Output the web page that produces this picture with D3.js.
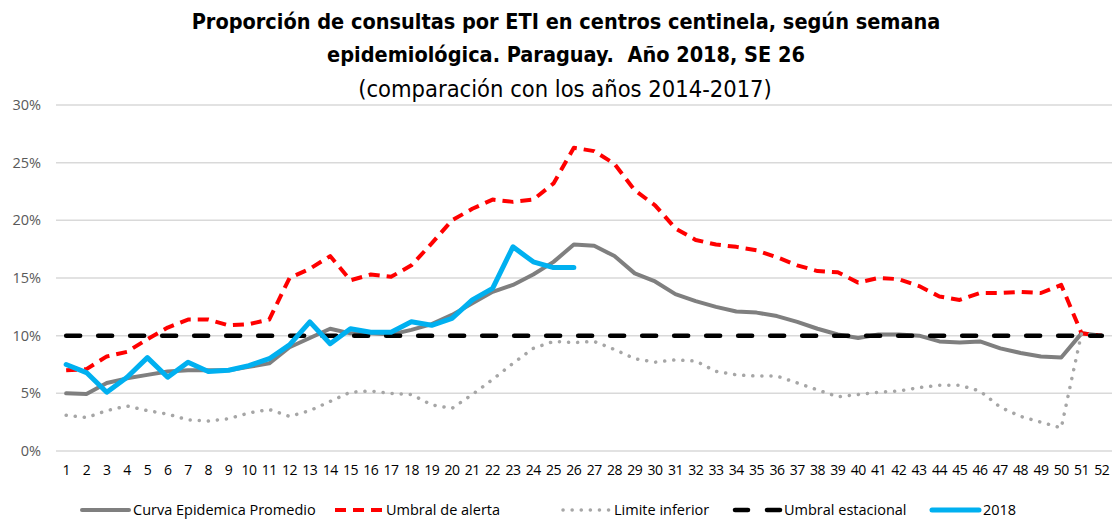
<!DOCTYPE html>
<html>
<head>
<meta charset="utf-8">
<script src="https://cdn.jsdelivr.net/npm/d3@7"></script>
<style>
  body { margin: 0; background: #fff; }
  svg { display: block; }
</style>
</head>
<body>
<svg id="chart" width="1114" height="520"></svg>
<script>
// semanas epidemiologicas 1..52
var weeks = d3.range(1, 53);

// Curva Epidemica Promedio (%)
var promedio = [5.0, 4.95, 5.9, 6.3, 6.6, 6.9, 7.0, 7.0, 7.0, 7.3, 7.6, 9.0, 9.8, 10.6, 10.2, 10.2,
  10.1, 10.5, 11.0, 11.8, 12.8, 13.8, 14.4, 15.3, 16.4, 17.9, 17.8, 16.9, 15.4, 14.7, 13.6, 13.0,
  12.5, 12.1, 12.0, 11.7, 11.2, 10.6, 10.1, 9.8, 10.1, 10.1, 10.0, 9.5, 9.4, 9.5, 8.9, 8.5,
  8.2, 8.1, 10.2, 10.0];

// Umbral de alerta (%)
var alerta = [7.0, 7.1, 8.2, 8.6, 9.7, 10.7, 11.4, 11.4, 10.9, 11.0, 11.4, 15.0, 15.8, 16.9, 14.8, 15.3,
  15.1, 16.1, 18.0, 20.0, 21.0, 21.8, 21.6, 21.8, 23.2, 26.3, 26.0, 24.9, 22.6, 21.3, 19.3, 18.3,
  17.9, 17.7, 17.4, 16.8, 16.1, 15.6, 15.5, 14.6, 15.0, 14.9, 14.3, 13.4, 13.1, 13.7, 13.7, 13.8,
  13.7, 14.4, 10.2, 10.0];

// Limite inferior (%)
var inferior = [3.1, 2.9, 3.5, 3.9, 3.5, 3.2, 2.7, 2.6, 2.8, 3.3, 3.6, 3.0, 3.5, 4.3, 5.1, 5.2,
  5.0, 4.9, 4.0, 3.7, 4.9, 6.2, 7.6, 8.9, 9.5, 9.4, 9.5, 8.8, 8.0, 7.7, 7.9, 7.8,
  6.9, 6.6, 6.5, 6.5, 5.9, 5.3, 4.7, 4.9, 5.1, 5.2, 5.5, 5.7, 5.7, 5.2, 3.8, 3.0,
  2.5, 2.0, 10.2, 10.0];

// Umbral estacional (%)
var estacional = weeks.map(function() { return 10; });

// 2018, hasta la SE 26 (%)
var anio2018 = [7.5, 6.8, 5.1, 6.4, 8.1, 6.4, 7.7, 6.9, 7.0, 7.4, 8.0, 9.2, 11.2, 9.3, 10.6, 10.3,
  10.3, 11.2, 10.9, 11.5, 13.1, 14.1, 17.7, 16.4, 15.9, 15.9];

var yTicks = [0, 5, 10, 15, 20, 25, 30];

var titleLines = ["Proporción de consultas por ETI en centros centinela, según semana",
  "epidemiológica. Paraguay.  Año 2018, SE 26"];
var subtitle = "(comparación con los años 2014-2017)";

var series = [
  { name: "Curva Epidemica Promedio", values: promedio, color: "#7f7f7f", width: 4, dash: null, cap: "round" },
  { name: "Umbral de alerta", values: alerta, color: "#ff0000", width: 4, dash: "11,7", cap: "butt" },
  { name: "Limite inferior", values: inferior, color: "#a6a6a6", width: 3.5, dash: "0.1,9", cap: "round" },
  { name: "Umbral estacional", values: estacional, color: "#000000", width: 4.5, dash: "14,18", cap: "round" },
  { name: "2018", values: anio2018, color: "#00b0f0", width: 5, dash: null, cap: "round" }
];

var svg = d3.select("#chart");
var margin = { left: 56, right: 2, top: 105, bottom: 69 };
var width = 1114 - margin.left - margin.right,
    height = 520 - margin.top - margin.bottom;

var x = d3.scaleBand().domain(weeks).range([0, width]);
var y = d3.scaleLinear().domain([0, 30]).range([height, 0]);

var g = svg.append("g").attr("transform", "translate(" + margin.left + "," + margin.top + ")");

// title
svg.selectAll(".title").data(titleLines).enter().append("text")
    .attr("x", 566)
    .attr("y", function(d, i) { return 29 + i * 33; })
    .attr("text-anchor", "middle")
    .style("white-space", "pre")
    .style("font-family", "'DejaVu Sans Condensed', sans-serif")
    .style("font-weight", "bold")
    .style("font-size", "21.5px")
    .attr("fill", "#000")
    .text(function(d) { return d; });

svg.append("text")
    .attr("x", 565)
    .attr("y", 97)
    .attr("text-anchor", "middle")
    .style("font-family", "'DejaVu Sans Condensed', sans-serif")
    .style("font-size", "23.5px")
    .attr("fill", "#000")
    .text(subtitle);

// gridlines
g.selectAll(".grid").data(yTicks).enter().append("line")
    .attr("x1", 0).attr("x2", width)
    .attr("y1", function(d) { return y(d); })
    .attr("y2", function(d) { return y(d); })
    .attr("stroke", "#d9d9d9")
    .attr("stroke-width", 1.5);

// y axis labels
var yAxis = g.append("g")
    .call(d3.axisLeft(y).tickValues(yTicks).tickSize(0).tickPadding(15)
      .tickFormat(function(d) { return d + "%"; }));
yAxis.select(".domain").remove();
yAxis.selectAll("text")
    .style("font-family", "'Open Sans', sans-serif")
    .style("font-size", "14.5px")
    .attr("fill", "#595959");

// x axis labels
var xAxis = g.append("g")
    .attr("transform", "translate(0," + height + ")")
    .call(d3.axisBottom(x).tickSize(0).tickPadding(14));
xAxis.select(".domain").remove();
xAxis.selectAll("text")
    .style("font-family", "'Open Sans', sans-serif")
    .style("font-size", "14px")
    .style("letter-spacing", "-0.5px")
    .attr("fill", "#000");

var line = d3.line()
    .x(function(d, i) { return x(weeks[i]) + x.bandwidth() / 2; })
    .y(function(d) { return y(d); });

g.selectAll(".serie").data(series).enter().append("path")
    .attr("d", function(s) { return line(s.values); })
    .attr("fill", "none")
    .attr("stroke", function(s) { return s.color; })
    .attr("stroke-width", function(s) { return s.width; })
    .attr("stroke-dasharray", function(s) { return s.dash; })
    .attr("stroke-linecap", function(s) { return s.cap; })
    .attr("stroke-linejoin", "round");

// legend
var legendX = [82, 335, 563, 733, 932];
var legend = svg.selectAll(".legend").data(series).enter().append("g")
    .attr("transform", function(s, i) { return "translate(" + legendX[i] + ",510)"; });

legend.append("line")
    .attr("x1", function(s, i) { return i === 3 ? 2 : 0; })
    .attr("x2", function(s, i) { return i === 3 ? 49 : 47; })
    .attr("y1", 0).attr("y2", 0)
    .attr("stroke", function(s) { return s.color; })
    .attr("stroke-width", function(s) { return s.width; })
    .attr("stroke-dasharray", function(s, i) { return i === 3 ? "13,19" : s.dash; })
    .attr("stroke-linecap", function(s) { return s.cap; });

legend.append("text")
    .attr("x", 51)
    .attr("y", 5)
    .style("font-family", "'Open Sans', sans-serif")
    .style("font-size", "14.5px")
    .attr("fill", "#000")
    .text(function(s) { return s.name; });
</script>
</body>
</html>
